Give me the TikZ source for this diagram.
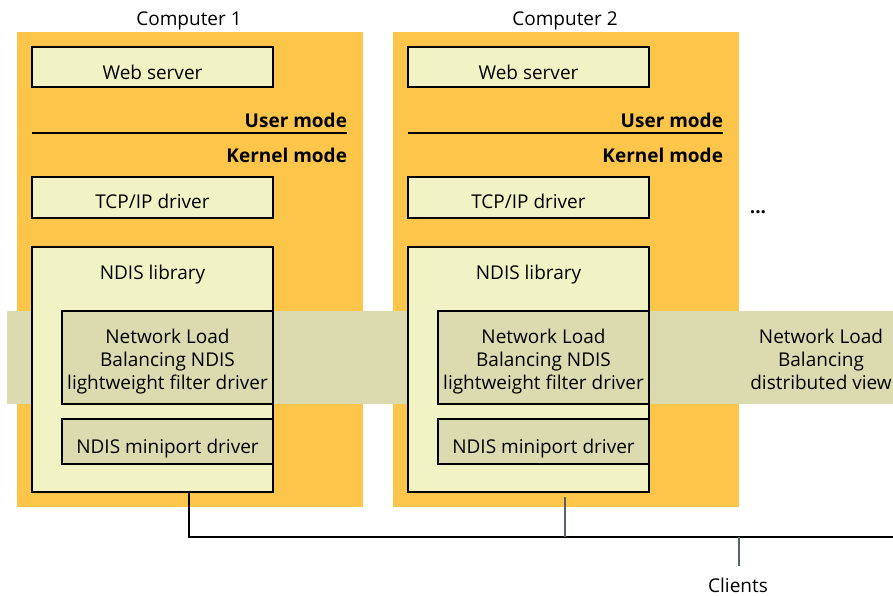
\documentclass[tikz,border=0pt]{standalone}
\usepackage{fontspec}
\setmainfont{Open Sans}
\definecolor{orangebg}{HTML}{FDC64B}
\definecolor{lightbox}{HTML}{F2F3C4}
\definecolor{bandcol}{HTML}{DCDBB0}
\definecolor{wire}{HTML}{5A6070}
\begin{document}
\begin{tikzpicture}[x=1pt,y=-1pt,
  every node/.style={inner sep=0pt,outer sep=0pt},
  txt/.style={anchor=base,font=\fontsize{19}{23}\selectfont},
  modetext/.style={anchor=base east,font=\fontsize{19}{23}\selectfont\bfseries},
  computer/.style={fill=orangebg,draw=none,rectangle,minimum width=346pt,minimum height=475pt},
  lightbox/.style={fill=lightbox,draw=black,line width=2.3pt,rectangle},
  bandbox/.style={fill=bandcol,draw=black,line width=2.3pt,rectangle},
  bus/.style={draw=black,line width=2.2pt},
  tap/.style={draw=wire,line width=1.5pt}]
\useasboundingbox (0,0) rectangle (893,595);
% computers background
\node[computer] (c1) at (190,269.5) {};
\node[computer] (c2) at (566,269.5) {};
\node[txt] (l1) at (189,25) {Computer 1};
\node[txt] (l2) at (565,25) {Computer 2};
% band
\node[fill=bandcol,rectangle,minimum width=886pt,minimum height=93pt] (band) at (450,357.5) {};
\node[txt] (bt1) at (821,343) {Network Load};
\node[txt] (bt2) at (821,366) {Balancing};
\node[txt] (bt3) at (821,389) {distributed view};
% computer 1
\node[lightbox,minimum width=241pt,minimum height=40pt] (ws1) at (152.5,67) {};
\node[txt] (ws1t) at (152.5,79) {Web server};
\node[modetext] (um1) at (347,127) {User mode};
\draw[line width=2.2pt] (32,133) coordinate (ml1) -- (347,133) coordinate (mr1);
\node[modetext] (km1) at (347,162) {Kernel mode};
\node[lightbox,minimum width=241pt,minimum height=41pt] (tcp1) at (152.5,197.5) {};
\node[txt] (tcp1t) at (152.5,208) {TCP/IP driver};
\node[lightbox,minimum width=241pt,minimum height=245pt] (ndis1) at (152.5,369.5) {};
\node[txt] (ndl1) at (152.5,279) {NDIS library};
\node[bandbox,minimum width=211pt,minimum height=93pt] (nlb1) at (167.5,357.5) {};
\node[txt] (nlb1a) at (167.5,343) {Network Load};
\node[txt] (nlb1b) at (167.5,366) {Balancing NDIS};
\node[txt] (nlb1c) at (167.5,389) {lightweight filter driver};
\node[bandbox,minimum width=211pt,minimum height=45pt] (mp1) at (167.5,441.5) {};
\node[txt] (mp1t) at (167.5,453) {NDIS miniport driver};
% computer 2
\node[lightbox,minimum width=241pt,minimum height=40pt] (ws2) at (528.5,67) {};
\node[txt] (ws2t) at (528.5,79) {Web server};
\node[modetext] (um2) at (723,127) {User mode};
\draw[line width=2.2pt] (408,133) coordinate (ml2) -- (723,133) coordinate (mr2);
\node[modetext] (km2) at (723,162) {Kernel mode};
\node[lightbox,minimum width=241pt,minimum height=41pt] (tcp2) at (528.5,197.5) {};
\node[txt] (tcp2t) at (528.5,208) {TCP/IP driver};
\node[lightbox,minimum width=241pt,minimum height=245pt] (ndis2) at (528.5,369.5) {};
\node[txt] (ndl2) at (528.5,279) {NDIS library};
\node[bandbox,minimum width=211pt,minimum height=93pt] (nlb2) at (543.5,357.5) {};
\node[txt] (nlb2a) at (543.5,343) {Network Load};
\node[txt] (nlb2b) at (543.5,366) {Balancing NDIS};
\node[txt] (nlb2c) at (543.5,389) {lightweight filter driver};
\node[bandbox,minimum width=211pt,minimum height=45pt] (mp2) at (543.5,441.5) {};
\node[txt] (mp2t) at (543.5,453) {NDIS miniport driver};
% dots
\node[txt,font=\fontsize{19}{23}\selectfont\bfseries] (dots) at (758,213) {...};
% network
\coordinate (j1) at (189,537);
\coordinate (j2) at (565,537);
\coordinate (jc) at (739,537);
\coordinate (bend) at (893,537);
\coordinate (t2) at (565,497);
\coordinate (tc) at (739,566);
\node[txt] (cl) at (738,592) {Clients};
\draw[bus] (ndis1.south -| j1) -- (j1) -- (bend);
\draw[tap] (t2) -- (j2);
\draw[tap] (jc) -- (tc);
\end{tikzpicture}
\end{document}
